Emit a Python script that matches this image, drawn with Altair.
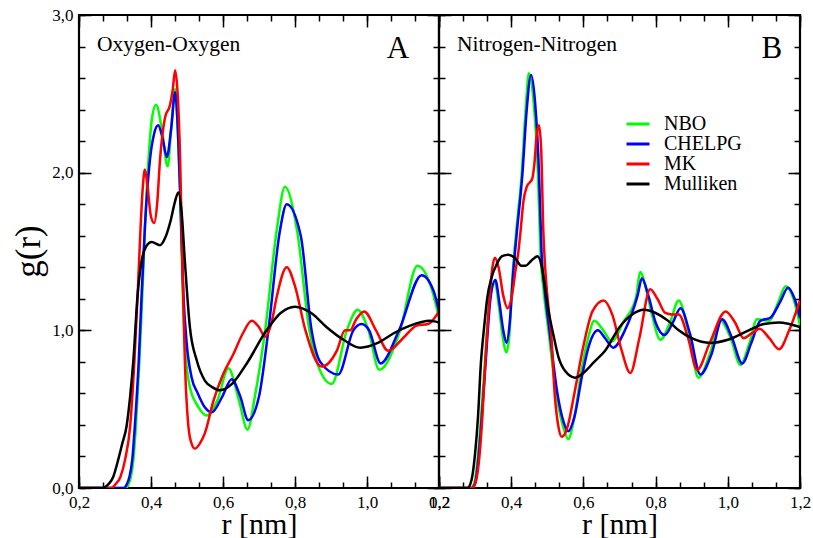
import altair as alt
import pandas as pd

FONT = "'Liberation Serif', 'Times New Roman', Times, serif"
SERIES = ["NBO", "CHELPG", "MK", "Mulliken"]
COLORS = ["#00ff00", "#0000ff", "#ff0000", "#000000"]

X_MAJOR = [0.2, 0.4, 0.6, 0.8, 1.0, 1.2]
X_MINOR = [0.2, 0.2667, 0.3333, 0.4, 0.4667, 0.5333, 0.6, 0.6667, 0.7333, 0.8,
           0.8667, 0.9333, 1.0, 1.0667, 1.1333, 1.2]
Y_MAJOR = [0.0, 1.0, 2.0, 3.0]
Y_MINOR = [0.0, 0.2, 0.4, 0.6, 0.8, 1.0, 1.2, 1.4, 1.6, 1.8, 2.0, 2.2, 2.4, 2.6, 2.8, 3.0]

# ---------------- Panel A : Oxygen-Oxygen ----------------
A_NBO_R = [0.200, 0.330, 0.337, 0.344, 0.351, 0.358, 0.368, 0.376, 0.383, 0.393, 0.403, 0.414,
           0.430, 0.446, 0.457, 0.467, 0.474, 0.481, 0.490, 0.497, 0.508, 0.530, 0.555, 0.585,
           0.615, 0.645, 0.668, 0.690, 0.717, 0.749, 0.772, 0.806, 0.840, 0.865, 0.902, 0.944,
           0.974, 1.004, 1.034, 1.092, 1.140, 1.184, 1.200]
A_NBO_G = [0.00, 0.00, 0.02, 0.07, 0.18, 0.39, 0.81, 1.23, 1.65, 2.08, 2.35, 2.43,
           2.28, 2.04, 2.30, 2.53, 2.30, 1.87, 1.10, 0.82, 0.64, 0.52, 0.46, 0.56,
           0.76, 0.55, 0.37, 0.60, 1.00, 1.63, 1.91, 1.63, 1.00, 0.77, 0.66, 1.00,
           1.13, 1.00, 0.75, 1.00, 1.41, 1.23, 1.08]

A_CHELPG_R = [0.200, 0.325, 0.332, 0.340, 0.348, 0.355, 0.366, 0.374, 0.383, 0.397, 0.408, 0.420,
              0.432, 0.444, 0.456, 0.467, 0.474, 0.481, 0.490, 0.499, 0.513, 0.530, 0.550, 0.569,
              0.598, 0.624, 0.648, 0.670, 0.700, 0.726, 0.758, 0.777, 0.816, 0.846, 0.870, 0.920,
              0.962, 0.985, 1.006, 1.038, 1.089, 1.152, 1.185, 1.200]
A_CHELPG_G = [0.00, 0.00, 0.02, 0.07, 0.18, 0.39, 0.81, 1.23, 1.65, 2.08, 2.24, 2.30,
              2.22, 2.10, 2.28, 2.51, 2.30, 1.87, 1.23, 0.92, 0.70, 0.60, 0.51, 0.48,
              0.58, 0.69, 0.58, 0.43, 0.58, 1.00, 1.63, 1.80, 1.60, 1.00, 0.80, 0.72,
              1.00, 1.04, 1.00, 0.79, 1.00, 1.35, 1.25, 1.12]

A_MK_R = [0.200, 0.290, 0.300, 0.315, 0.328, 0.342, 0.354, 0.363, 0.371, 0.377, 0.383, 0.390,
          0.400, 0.409, 0.417, 0.425, 0.439, 0.453, 0.460, 0.467, 0.474, 0.481, 0.487, 0.494,
          0.504, 0.513, 0.522, 0.535, 0.550, 0.573, 0.600, 0.629, 0.655, 0.680, 0.700, 0.717,
          0.735, 0.749, 0.777, 0.800, 0.829, 0.874, 0.916, 0.939, 0.953, 0.970, 0.992, 1.025,
          1.059, 1.100, 1.138, 1.170, 1.200]
A_MK_G = [0.00, 0.00, 0.02, 0.07, 0.18, 0.39, 0.81, 1.23, 1.65, 1.90, 2.02, 1.92,
          1.72, 1.68, 1.80, 2.08, 2.35, 2.43, 2.52, 2.65, 2.50, 2.08, 1.44, 0.81,
          0.39, 0.28, 0.25, 0.28, 0.35, 0.55, 0.72, 0.85, 0.98, 1.06, 1.02, 0.96,
          1.05, 1.21, 1.40, 1.28, 1.00, 0.77, 0.87, 1.00, 1.00, 1.07, 1.12, 1.00,
          0.87, 0.95, 1.03, 1.04, 1.12]

A_MULL_R = [0.200, 0.265, 0.280, 0.295, 0.309, 0.320, 0.332, 0.342, 0.351, 0.363, 0.374, 0.386,
            0.402, 0.425, 0.440, 0.455, 0.467, 0.476, 0.485, 0.494, 0.508, 0.527, 0.550, 0.570,
            0.592, 0.625, 0.666, 0.721, 0.760, 0.800, 0.845, 0.888, 0.935, 0.981, 1.030, 1.073,
            1.120, 1.175, 1.200]
A_MULL_G = [0.00, 0.00, 0.02, 0.07, 0.18, 0.28, 0.39, 0.58, 0.81, 1.23, 1.44, 1.53,
            1.56, 1.54, 1.59, 1.70, 1.82, 1.875, 1.75, 1.44, 1.02, 0.81, 0.68, 0.64,
            0.62, 0.66, 0.79, 1.00, 1.11, 1.15, 1.11, 1.02, 0.94, 0.89, 0.92, 0.98,
            1.03, 1.06, 1.05]

# ---------------- Panel B : Nitrogen-Nitrogen ----------------
B_NBO_R = [0.200, 0.288, 0.298, 0.306, 0.314, 0.327, 0.341, 0.355, 0.366, 0.377, 0.387, 0.396,
           0.403, 0.414, 0.429, 0.440, 0.449, 0.462, 0.474, 0.481, 0.490, 0.503, 0.526, 0.545,
           0.558, 0.575, 0.595, 0.613, 0.630, 0.655, 0.679, 0.710, 0.746, 0.757, 0.775, 0.790,
           0.813, 0.840, 0.864, 0.890, 0.919, 0.950, 0.980, 1.008, 1.035, 1.060, 1.081, 1.114,
           1.140, 1.160, 1.182, 1.200]
B_NBO_G = [0.00, 0.00, 0.03, 0.16, 0.37, 0.79, 1.21, 1.30, 1.15, 0.95, 0.86, 1.00,
           1.32, 1.63, 1.99, 2.40, 2.63, 2.45, 2.00, 1.50, 1.25, 1.00, 0.58, 0.38,
           0.31, 0.45, 0.75, 0.95, 1.06, 1.00, 0.93, 1.05, 1.21, 1.37, 1.25, 1.10,
           0.94, 1.05, 1.19, 1.00, 0.70, 0.85, 1.06, 0.95, 0.78, 0.92, 1.07, 1.06,
           1.18, 1.28, 1.20, 1.03]

B_CHELPG_R = [0.200, 0.290, 0.300, 0.308, 0.316, 0.329, 0.343, 0.356, 0.367, 0.378, 0.387, 0.396,
              0.405, 0.416, 0.431, 0.443, 0.455, 0.466, 0.477, 0.484, 0.493, 0.506, 0.528, 0.545,
              0.558, 0.575, 0.597, 0.615, 0.640, 0.660, 0.683, 0.715, 0.750, 0.762, 0.780, 0.800,
              0.825, 0.848, 0.869, 0.895, 0.924, 0.955, 0.984, 1.012, 1.040, 1.065, 1.090, 1.118,
              1.145, 1.167, 1.185, 1.200]
B_CHELPG_G = [0.00, 0.00, 0.03, 0.16, 0.37, 0.79, 1.21, 1.32, 1.18, 1.00, 0.92, 1.05,
              1.35, 1.63, 1.99, 2.40, 2.62, 2.45, 2.00, 1.50, 1.25, 1.00, 0.60, 0.42,
              0.36, 0.45, 0.72, 0.90, 1.00, 0.95, 0.89, 1.00, 1.22, 1.33, 1.22, 1.05,
              0.97, 1.05, 1.14, 0.98, 0.72, 0.85, 1.07, 0.95, 0.79, 0.92, 1.06, 1.08,
              1.18, 1.27, 1.20, 1.08]

B_MK_R = [0.200, 0.292, 0.302, 0.312, 0.320, 0.328, 0.340, 0.348, 0.355, 0.365, 0.378, 0.390,
          0.402, 0.412, 0.420, 0.426, 0.434, 0.443, 0.452, 0.458, 0.464, 0.471, 0.477, 0.483,
          0.489, 0.494, 0.503, 0.510, 0.521, 0.530, 0.540, 0.555, 0.575, 0.600, 0.625, 0.656,
          0.680, 0.705, 0.730, 0.755, 0.785, 0.805, 0.827, 0.845, 0.864, 0.890, 0.915, 0.950,
          0.994, 1.020, 1.044, 1.065, 1.088, 1.115, 1.142, 1.170, 1.200]
B_MK_G = [0.00, 0.00, 0.04, 0.20, 0.45, 0.79, 1.20, 1.40, 1.46, 1.40, 1.22, 1.14,
          1.22, 1.38, 1.50, 1.63, 1.82, 1.91, 1.94, 1.96, 2.05, 2.25, 2.30, 2.15,
          1.63, 1.40, 1.15, 1.00, 0.58, 0.40, 0.325, 0.38, 0.60, 0.90, 1.12, 1.19,
          1.10, 0.88, 0.73, 0.95, 1.26, 1.20, 1.11, 1.10, 1.10, 0.95, 0.75, 0.92,
          1.12, 1.05, 0.95, 0.98, 1.01, 0.95, 0.88, 1.00, 1.19]

B_MULL_R = [0.200, 0.279, 0.290, 0.300, 0.308, 0.316, 0.325, 0.334, 0.345, 0.360, 0.375, 0.392,
            0.410, 0.428, 0.440, 0.455, 0.473, 0.485, 0.494, 0.503, 0.517, 0.531, 0.550, 0.577,
            0.600, 0.630, 0.660, 0.700, 0.735, 0.767, 0.800, 0.835, 0.864, 0.900, 0.952, 1.000,
            1.058, 1.100, 1.142, 1.170, 1.200]
B_MULL_G = [0.00, 0.00, 0.05, 0.22, 0.45, 0.79, 1.02, 1.21, 1.33, 1.42, 1.47, 1.48,
            1.46, 1.41, 1.41, 1.44, 1.47, 1.40, 1.27, 1.13, 0.97, 0.83, 0.74, 0.70,
            0.73, 0.80, 0.87, 1.02, 1.10, 1.13, 1.11, 1.06, 1.00, 0.95, 0.92, 0.94,
            1.00, 1.04, 1.05, 1.04, 1.02]

PANEL_TITLES = ["Oxygen-Oxygen", "Nitrogen-Nitrogen"]
PANEL_LETTERS = ["A", "B"]


def frame(curves):
    rows = []
    for name, rs, gs in curves:
        for i, (r, g) in enumerate(zip(rs, gs)):
            rows.append({"series": name, "r": r, "g": g, "i": i})
    return pd.DataFrame(rows)


dfA = frame([("NBO", A_NBO_R, A_NBO_G), ("CHELPG", A_CHELPG_R, A_CHELPG_G),
             ("MK", A_MK_R, A_MK_G), ("Mulliken", A_MULL_R, A_MULL_G)])
dfB = frame([("NBO", B_NBO_R, B_NBO_G), ("CHELPG", B_CHELPG_R, B_CHELPG_G),
             ("MK", B_MK_R, B_MK_G), ("Mulliken", B_MULL_R, B_MULL_G)])

xs = alt.Scale(domain=[0.2, 1.2], nice=False, zero=False)
ys = alt.Scale(domain=[0.0, 3.0], nice=False, zero=False)
LABEL_EXPR = "replace(format(datum.value, '.1f'), '.', ',')"


def tick_axis(orient, values, size):
    return alt.Axis(orient=orient, values=values, tickSize=size, offset=-size,
                    domain=False, grid=False, labels=False, title=None,
                    tickColor="black", tickWidth=1.5, minExtent=0, maxExtent=0)


def panel(df, title_text, letter, show_y, width):
    color = alt.Color("series:N", scale=alt.Scale(domain=SERIES, range=COLORS),
                      sort=SERIES,
                      legend=alt.Legend(orient="none", legendX=549, legendY=99, title=None,
                                        symbolType="M-2,0H2", symbolStrokeWidth=3,
                                        symbolSize=132, labelFont=FONT, labelFontSize=20,
                                        labelOffset=16, rowPadding=0, padding=0,
                                        labelColor="black"))
    x_main = alt.X("r:Q", scale=xs, axis=alt.Axis(
        orient="bottom", values=X_MAJOR, tickSize=12, offset=-12, domain=False, grid=False,
        tickColor="black", tickWidth=1.5, labelExpr=LABEL_EXPR, labelFont=FONT,
        labelFontSize=17, labelColor="black", labelPadding=19, labelBaseline="alphabetic",
        labelFlush=False, labelOverlap=False, title="r [nm]", titleFont=FONT,
        titleFontSize=30, titleFontWeight="normal", titleColor="black",
        titleBaseline="alphabetic", titleY=57))
    if show_y:
        yax = alt.Axis(orient="left", values=Y_MAJOR, tickSize=12, offset=-12, domain=False,
                       grid=False, tickColor="black", tickWidth=1.5, labelExpr=LABEL_EXPR,
                       labelFont=FONT, labelFontSize=17, labelColor="black", labelPadding=6,
                       labelOverlap=False, title="g(r)", titleFont=FONT, titleFontSize=35,
                       titleFontWeight="normal", titleColor="black", titleAngle=270,
                       titleBaseline="alphabetic", titleAlign="center", titleX=-52, titleY=236)
    else:
        yax = tick_axis("left", Y_MAJOR, 12)
    lines = alt.Chart(df).mark_line(strokeWidth=2.5, interpolate="monotone", clip=True).encode(
        x=x_main, y=alt.Y("g:Q", scale=ys, axis=yax), color=color,
        order="i:Q", detail="series:N")

    def ghost(xo, xv, xsz, yo, yv, ysz):
        return alt.Chart(df).mark_line(strokeOpacity=0).encode(
            x=alt.X("r:Q", scale=xs, axis=tick_axis(xo, xv, xsz)),
            y=alt.Y("g:Q", scale=ys, axis=tick_axis(yo, yv, ysz)),
            detail="series:N")

    g2 = ghost("bottom", X_MINOR, 6, "left", Y_MINOR, 6)
    g3 = ghost("top", X_MAJOR, 12, "right", Y_MAJOR, 12)
    g4 = ghost("top", X_MINOR, 6, "right", Y_MINOR, 6)

    tdf = pd.DataFrame({"r": [0.250], "g": [2.772], "t": [title_text]})
    ldf = pd.DataFrame({"r": [1.086 if letter == "A" else 1.122], "g": [2.728], "t": [letter]})
    t1 = alt.Chart(tdf).mark_text(font=FONT, fontSize=21.5, align="left",
                                  baseline="alphabetic", color="black").encode(
        x=alt.X("r:Q", scale=xs, axis=None), y=alt.Y("g:Q", scale=ys, axis=None), text="t:N")
    t2 = alt.Chart(ldf).mark_text(font=FONT, fontSize=31, align="center",
                                  baseline="alphabetic", color="black").encode(
        x=alt.X("r:Q", scale=xs, axis=None), y=alt.Y("g:Q", scale=ys, axis=None), text="t:N")

    return alt.layer(lines, g2, g3, g4, t1, t2).resolve_axis(
        x="independent", y="independent").properties(width=width, height=473)


pA = panel(dfA, PANEL_TITLES[0], PANEL_LETTERS[0], True, 360)
pB = panel(dfB, PANEL_TITLES[1], PANEL_LETTERS[1], False, 361)

# autosize "none": the concat view itself has no size, so the padding carries the
# whole canvas (79 + 734 = 813 wide, 15 + 523 = 538 high)
chart = alt.hconcat(pA, pB, spacing=0, bounds="flush").properties(
    autosize=alt.AutoSizeParams(type="none"),
    padding={"left": 79, "top": 15, "right": 734, "bottom": 523},
    background="white",
).configure_view(stroke="black", strokeWidth=2.2).configure_legend(labelFont=FONT)

chart.save("out.html", embed_options={"renderer": "svg", "actions": False})
